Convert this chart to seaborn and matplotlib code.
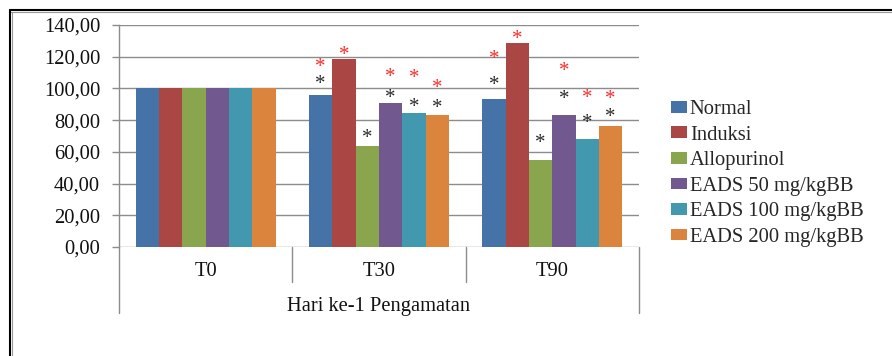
import pandas as pd
import seaborn as sns
import matplotlib.pyplot as plt
from matplotlib.lines import Line2D
from matplotlib.patches import Patch
from matplotlib.ticker import FuncFormatter, MultipleLocator


times = ['T0', 'T30', 'T90']
groups = ['Normal', 'Induksi', 'Allopurinol', 'EADS 50 mg/kgBB',
          'EADS 100 mg/kgBB', 'EADS 200 mg/kgBB']
colors = ['#4572A7', '#AA4643', '#89A54E', '#71588F', '#4198AF', '#DB843D']

normal = [100.0, 95.8, 93.1]
induksi = [100.0, 118.4, 128.5]
allopurinol = [100.0, 63.7, 55.0]
eads_50 = [100.0, 91.0, 83.4]
eads_100 = [100.0, 84.2, 68.3]
eads_200 = [100.0, 83.5, 76.3]

# asterisk offsets above bar top, in pixels (None = no asterisk)
black_star = [[None, 16, 20], [None, None, None], [None, 13, 22],
              [None, 10, 21], [None, 12, 21], [None, 12, 14]]
red_star = [[None, 33, 46], [None, 10, 10], [None, None, None],
            [None, 31, 49], [None, 41, 46], [None, 32, 32]]

W, H, DPI = 892, 356, 100
FS = 14.8


def build_frame():
    values = [normal, induksi, allopurinol, eads_50, eads_100, eads_200]
    rows = []
    for g, vals in zip(groups, values):
        for t, v in zip(times, vals):
            rows.append({'Waktu': t, 'Kelompok': g, 'Nilai': v})
    return pd.DataFrame(rows)


def comma_fmt(v, pos):
    return f'{v:.2f}'.replace('.', ',')


if __name__ == '__main__':
    df = build_frame()

    sns.set_style('white')
    plt.rcParams['font.family'] = ['Liberation Serif', 'DejaVu Serif']

    fig = plt.figure(figsize=(W / DPI, H / DPI), dpi=DPI)
    ax = fig.add_axes([119 / W, 1 - 247 / H, (639 - 119) / W, 222 / H])

    sns.barplot(data=df, x='Waktu', y='Nilai', hue='Kelompok', order=times,
                hue_order=groups, palette=colors, width=0.807, saturation=1,
                linewidth=0, ax=ax, legend=False)

    ax.set_xlim(-0.5, 2.5)
    ax.set_ylim(0, 140)
    ax.yaxis.set_major_locator(MultipleLocator(20))
    ax.yaxis.set_major_formatter(FuncFormatter(comma_fmt))
    ax.grid(axis='y', color='#8c8c8c', linewidth=1)
    ax.set_axisbelow(True)
    for s in ['top', 'right', 'bottom']:
        ax.spines[s].set_visible(False)
    ax.spines['left'].set_color('#8c8c8c')
    ax.spines['left'].set_linewidth(1)
    ax.spines['left'].set_bounds(0, 140)
    ax.tick_params(axis='y', left=True, length=5, width=1, color='#8c8c8c',
                   pad=8.5, labelsize=FS, labelcolor='#111111')
    ax.tick_params(axis='x', bottom=False, length=0, pad=11,
                   labelsize=FS, labelcolor='#111111')
    ax.set_ylabel('')
    ax.set_xlabel('Hari ke-1 Pengamatan', fontsize=FS, color='#111111',
                  labelpad=11)

    # category separators below the axis
    trans = ax.get_xaxis_transform()
    for x in [-0.5, 0.5, 1.5, 2.5]:
        low = -66 / 222 if x in (-0.5, 2.5) else -35 / 222
        ax.add_line(Line2D([x, x], [0, low], transform=trans, color='#8c8c8c',
                           linewidth=1, clip_on=False))

    # significance asterisks
    for cont, blk, red in zip(ax.containers, black_star, red_star):
        for bar, b, r in zip(cont, blk, red):
            cx = bar.get_x() + bar.get_width() / 2
            top = bar.get_height()
            if b is not None:
                ax.annotate('*', (cx, top), xytext=(0, b * 0.72 - 4.2),
                            textcoords='offset points', ha='center',
                            va='center', fontsize=15, color='#2a2a2a',
                            annotation_clip=False)
            if r is not None:
                ax.annotate('*', (cx, top), xytext=(0, r * 0.72 - 4.2),
                            textcoords='offset points', ha='center',
                            va='center', fontsize=15, color='#ff2a2a',
                            annotation_clip=False)

    handles = [Patch(facecolor=c, edgecolor='none') for c in colors]
    fig.legend(handles, groups, loc='upper left',
               bbox_to_anchor=(671 / W, 1 - 100 / H), frameon=False,
               fontsize=FS, handlelength=0.8, handleheight=0.5,
               handletextpad=0.12, labelspacing=0.32, borderpad=0,
               borderaxespad=0)

    # outer frame (top and left edge)
    fig.add_artist(Line2D([10 / W, 1], [1 - 10 / H, 1 - 10 / H],
                          color='black', linewidth=1.5))
    fig.add_artist(Line2D([10 / W, 1], [1 - 11.5 / H, 1 - 11.5 / H],
                          color='#999999', linewidth=0.8))
    fig.add_artist(Line2D([10 / W, 10 / W], [0, 1 - 10 / H],
                          color='black', linewidth=1.5))
    fig.add_artist(Line2D([11.5 / W, 11.5 / W], [0, 1 - 11.5 / H],
                          color='#999999', linewidth=0.8))

    fig.savefig('out.png', dpi=DPI)
